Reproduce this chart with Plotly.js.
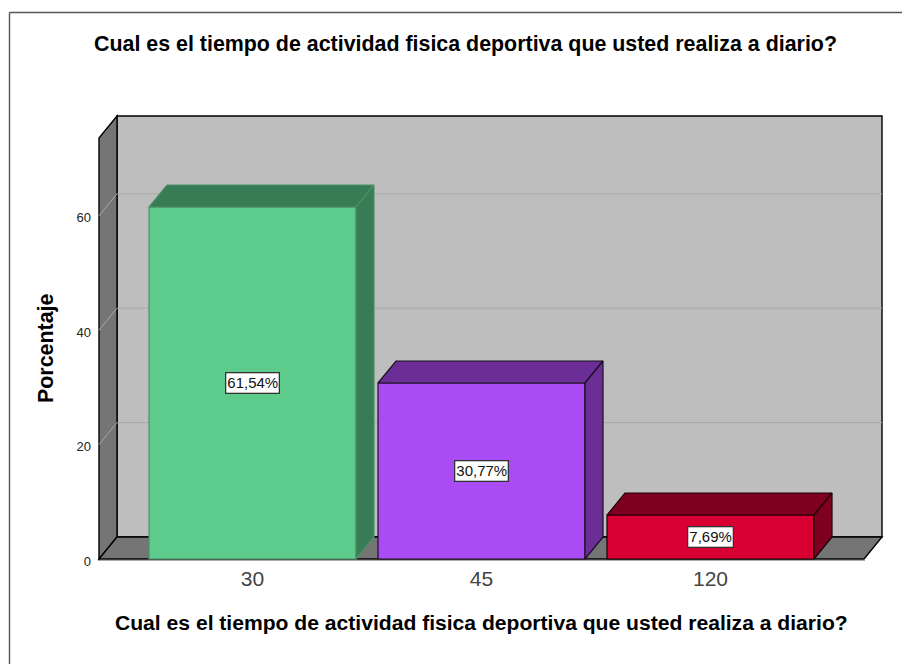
<!DOCTYPE html>
<html><head><meta charset="utf-8">
<script src="https://cdn.plot.ly/plotly-3.0.1.min.js"></script>
<style>html,body{margin:0;padding:0;background:#fff}#c{width:902px;height:664px}</style>
</head><body><div id="c"></div>
<script>
const categories = ["30","45","120"];
const percentages = [61.54,30.77,7.69];
const labels = ["61,54%","30,77%","7,69%"];
const frontColors = ["#5dcb8c","#a94cf5","#d80032"];
const sideColors = ["#387c56","#6a2e96","#7f001e"];
const edgeColors = ["#4d8f6a","#1a1020","#1a0008"];
const tickValues = [0,20,40,60];
const chartTitle = "Cual es el tiempo de actividad fisica deportiva que usted realiza a diario?";
const yTitle = "Porcentaje";

// axis scales: plot area slightly larger than the box so its edges are not clipped
const PL=96,PR=885,PT=113,PB=562,W=902,H=664;
const pxX=229, pxY=5.72, x0=252.5, y0=559;
const toX=p=>(p-x0)/pxX, toY=p=>(y0-p)/pxY;
const xr=[toX(PL),toX(PR)], yr=[toY(PB),toY(PT)];
const dx=18/pxX, dy=22/pxY, bw=207/pxX;
const fl=toX(99), fr=toX(864), br=toX(882), yBack=toY(116), yFront=toY(138);
const idx=categories.map((_,i)=>i);
const F="Liberation Sans, Arial, sans-serif";
const papX=p=>(p-PL)/(PR-PL), papY=p=>(PB-p)/(PB-PT);

function path(pts){return 'M'+pts.map(p=>p[0]+','+p[1]).join('L')+'Z';}
const shapes=[
 {type:'path',layer:'below',path:path([[fl+dx,dy],[br,dy],[br,yBack],[fl+dx,yBack]]),fillcolor:'#bebebe',line:{color:'#000',width:1.4}},
 {type:'path',layer:'below',path:path([[fl,0],[fl+dx,dy],[fl+dx,yBack],[fl,yFront]]),fillcolor:'#757575',line:{color:'#000',width:1.4}},
 {type:'path',layer:'below',path:path([[fl,0],[fr,0],[br,dy],[fl+dx,dy]]),fillcolor:'#757575',line:{color:'#000',width:1.4}},
 {type:'line',layer:'below',xref:'paper',yref:'paper',x0:papX(99),x1:papX(865),y0:papY(560.5),y1:papY(560.5),line:{color:'#aaa',width:1}}
];
tickValues.slice(1).forEach(v=>{
 shapes.push({type:'line',layer:'below',x0:fl,y0:v,x1:fl+dx,y1:v+dy,line:{color:'#a8a8a8',width:1}});
 shapes.push({type:'line',layer:'below',x0:fl+dx,y0:v+dy,x1:br,y1:v+dy,line:{color:'#a8a8a8',width:1}});
});

const traces=[{type:'bar',x:idx,y:percentages,width:bw,marker:{color:frontColors,line:{color:edgeColors,width:1.2}},hoverinfo:'skip',showlegend:false}];
idx.forEach(i=>{
 const a=i-bw/2,b=i+bw/2,v=percentages[i];
 traces.push({type:'scatter',mode:'lines',fill:'toself',fillcolor:sideColors[i],line:{color:edgeColors[i],width:1.2},hoverinfo:'skip',showlegend:false,
   x:[a,a+dx,b+dx,b,a],y:[v,v+dy,v+dy,v,v]});
 traces.push({type:'scatter',mode:'lines',fill:'toself',fillcolor:sideColors[i],line:{color:edgeColors[i],width:1.2},hoverinfo:'skip',showlegend:false,
   x:[b,b+dx,b+dx,b,b],y:[v,v+dy,dy,0,v]});
});

const annotations=idx.map(i=>({x:i,y:percentages[i]/2,xref:'x',yref:'y',text:labels[i],showarrow:false,
  font:{family:F,size:15,color:'#111'},bgcolor:'#fff',bordercolor:'#333',borderwidth:1.3,borderpad:1}));
annotations.push({xref:'paper',yref:'paper',xanchor:'center',yanchor:'middle',showarrow:false,text:chartTitle,
  x:papX(465),y:papY(44),font:{family:F,size:21.4,color:'#000',weight:'bold'}});
annotations.push({xref:'paper',yref:'paper',xanchor:'center',yanchor:'middle',showarrow:false,text:chartTitle,
  x:papX(481.5),y:papY(622),font:{family:F,size:21.1,color:'#000',weight:'bold'}});
annotations.push({xref:'paper',yref:'paper',xanchor:'center',yanchor:'middle',showarrow:false,text:yTitle,textangle:-90,
  x:papX(46),y:papY(348),font:{family:F,size:21.4,color:'#000',weight:'bold'}});
// frame of the picture: top and left sides only
shapes.push({type:'line',xref:'paper',yref:'paper',x0:papX(9.5),x1:papX(902),y0:papY(12.5),y1:papY(12.5),line:{color:'#555',width:1.4}});
shapes.push({type:'line',xref:'paper',yref:'paper',x0:papX(9.5),x1:papX(9.5),y0:papY(12.5),y1:papY(664),line:{color:'#555',width:1.4}});

Plotly.newPlot('c',traces,{
 width:W,height:H,paper_bgcolor:'#fff',plot_bgcolor:'rgba(0,0,0,0)',
 margin:{l:PL,r:W-PR,t:PT,b:H-PB,pad:0},showlegend:false,
 xaxis:{range:xr,tickmode:'array',tickvals:idx,ticktext:categories,showgrid:false,zeroline:false,showline:false,ticks:'',
   tickfont:{family:F,size:21,color:'#444'},ticklabelstandoff:2},
 yaxis:{range:yr,tickmode:'array',tickvals:tickValues,showgrid:false,zeroline:false,showline:false,ticks:'',
   tickfont:{family:F,size:13,color:'#222'},ticklabelstandoff:4,ticklabelshift:2},
 shapes,annotations,bargap:0
},{displayModeBar:false,staticPlot:true});
</script></body></html>
